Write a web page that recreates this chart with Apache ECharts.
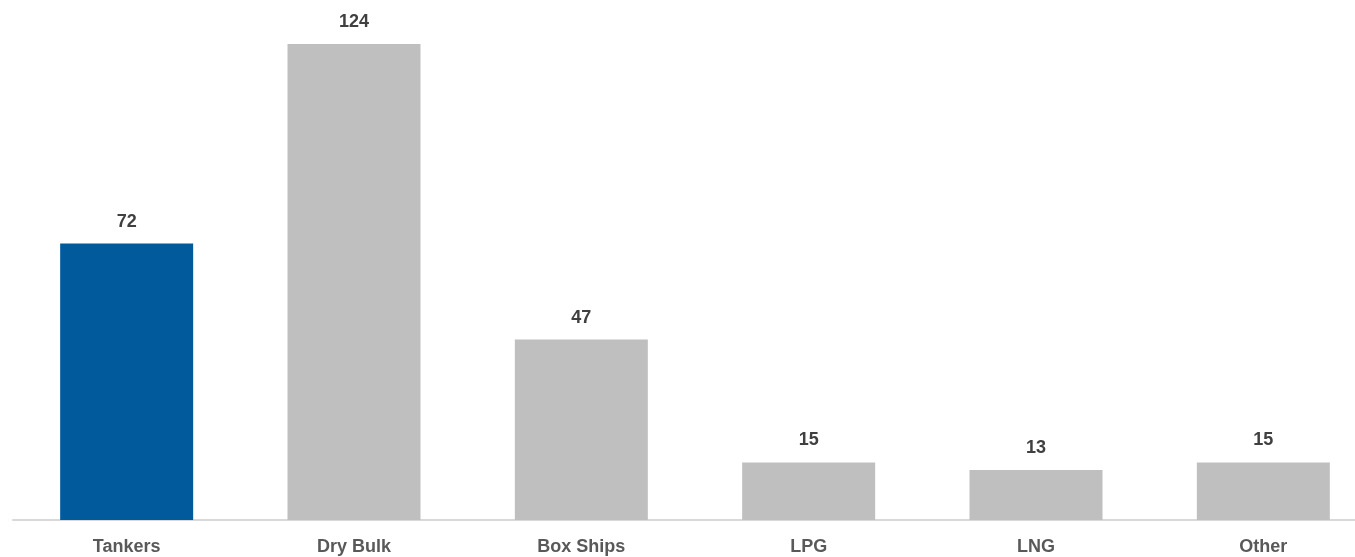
<!DOCTYPE html>
<html>
<head>
<meta charset="utf-8">
<script src="https://cdn.jsdelivr.net/npm/echarts@6/dist/echarts.min.js"></script>
<style>
html,body{margin:0;padding:0;background:#fff;overflow:hidden;}
#chart{width:1355px;height:557px;}
</style>
</head>
<body>
<div id="chart"></div>
<script>
const categories = ['Tankers', 'Dry Bulk', 'Box Ships', 'LPG', 'LNG', 'Other'];
const values = [72, 124, 47, 15, 13, 15];
const barColors = ['#005A9C', '#BFBFBF', '#BFBFBF', '#BFBFBF', '#BFBFBF', '#BFBFBF'];

const FONT = '"Liberation Sans Narrow", "Arial Narrow", "Liberation Sans", Arial, sans-serif';
const chart = echarts.init(document.getElementById('chart'), null, {renderer: 'canvas'});
chart.setOption({
  animation: false,
  backgroundColor: '#ffffff',
  grid: {left: 13, width: 1364, top: 44, bottom: 37, containLabel: false, outerBoundsMode: 'none'},
  xAxis: {
    type: 'category',
    data: categories,
    axisLine: {show: true, lineStyle: {color: '#D9D9D9', width: 2}},
    axisTick: {show: false},
    axisLabel: {color: '#595959', fontFamily: FONT, fontWeight: 'bold', fontSize: 18, margin: 18, interval: 0}
  },
  yAxis: {
    type: 'value', min: 0, max: 124,
    show: false,
    splitLine: {show: false}
  },
  series: [{
    type: 'bar',
    barWidth: '58.5%',
    data: values.map((v, i) => ({value: v, itemStyle: {color: barColors[i]}})),
    label: {show: true, position: 'top', distance: 13, color: '#404040', fontFamily: FONT, fontWeight: 'bold', fontSize: 18}
  }]
});
</script>
</body>
</html>
